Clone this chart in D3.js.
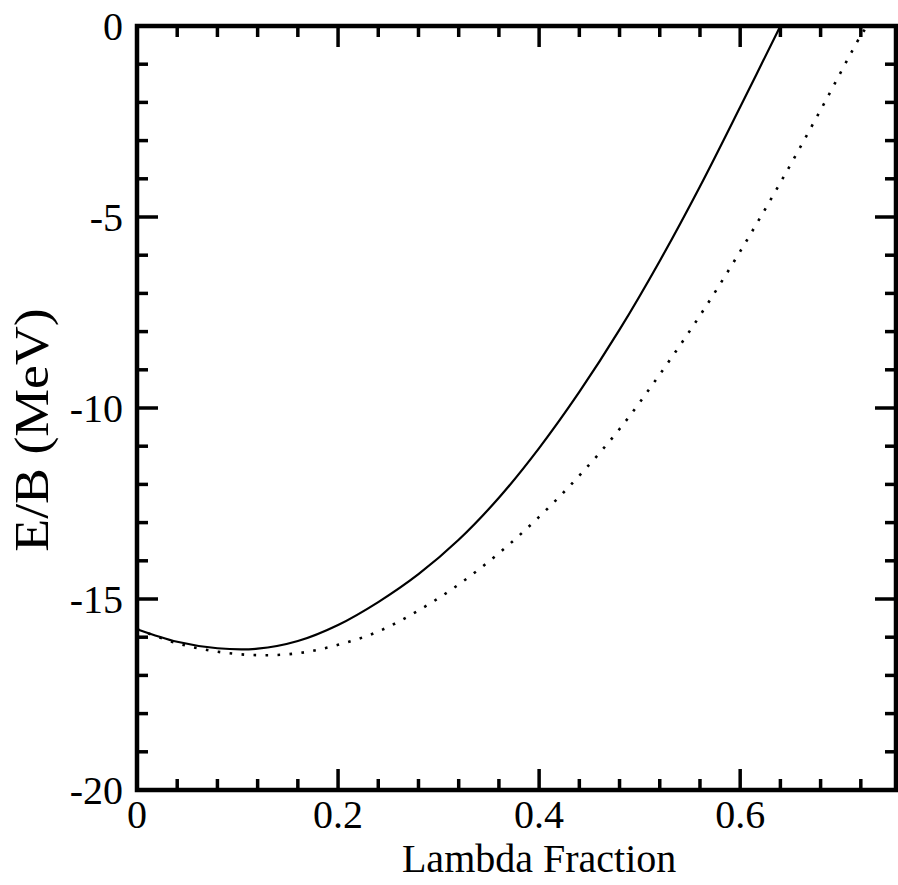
<!DOCTYPE html>
<html>
<head>
<meta charset="utf-8">
<script src="https://cdn.jsdelivr.net/npm/d3@7"></script>
<style>
  body { margin: 0; background: #fff; }
  svg { display: block; }
</style>
</head>
<body>
<figure id="chart" style="margin:0"></figure>
<script>
// lambda fraction sampled every 0.04
var lambdaSolid = [0, 0.04, 0.08, 0.12, 0.16, 0.20, 0.24, 0.28, 0.32, 0.36, 0.40, 0.44, 0.48, 0.52, 0.56, 0.60, 0.64];
var energySolid = [-15.79, -16.12, -16.29, -16.30, -16.10, -15.68, -15.08, -14.35, -13.45, -12.35, -11.05, -9.58, -7.95, -6.15, -4.20, -2.12, 0.0];

var lambdaDotted = [0, 0.04, 0.08, 0.12, 0.16, 0.20, 0.24, 0.28, 0.32, 0.36, 0.40, 0.44, 0.48, 0.52, 0.56, 0.60, 0.64, 0.68, 0.72, 0.7265];
var energyDotted = [-15.79, -16.16, -16.38, -16.47, -16.42, -16.20, -15.85, -15.30, -14.62, -13.80, -12.85, -11.77, -10.55, -9.12, -7.58, -5.90, -4.10, -2.20, -0.25, 0.0];

var xTickLabels = [0, 0.2, 0.4, 0.6];
var yTickLabels = [0, -5, -10, -15, -20];

var fontFamily = "'Times New Roman', 'Liberation Serif', Times, serif";

var dimensions = {
    width: 898,
    height: 885,
    margin: {
        top: 26,
        right: 2,
        bottom: 95,
        left: 137,
    },
};

dimensions.boundedWidth = dimensions.width - dimensions.margin.left - dimensions.margin.right;
dimensions.boundedHeight = dimensions.height - dimensions.margin.top - dimensions.margin.bottom;

var svg = d3.select("figure#chart")
    .append("svg")
    .attr("width", dimensions.width)
    .attr("height", dimensions.height)
    .attr("font-family", fontFamily);

var g = svg.append("g")
    .attr("transform", `translate(${dimensions.margin.left},${dimensions.margin.top})`);

var xScale = d3.scaleLinear()
    .domain([0, 0.755])
    .range([0, dimensions.boundedWidth]);

var yScale = d3.scaleLinear()
    .domain([-20, 0])
    .range([dimensions.boundedHeight, 0]);

// ticks: minor every 0.04 / 1, major every 0.2 / 5
var xMinor = d3.range(0, 0.7551, 0.04);
var yMinor = d3.range(-20, 0.001, 1);

function isMajorX(v) { return Math.abs(v / 0.2 - Math.round(v / 0.2)) < 1e-6; }
function isMajorY(v) { return Math.abs(v / 5 - Math.round(v / 5)) < 1e-6; }

var tickW = 3.5;
var W = dimensions.boundedWidth, H = dimensions.boundedHeight;

// bottom + top ticks (inward)
xMinor.forEach(function(v) {
    var len = isMajorX(v) ? 21 : 11;
    g.append("line").attr("x1", xScale(v)).attr("x2", xScale(v))
        .attr("y1", H).attr("y2", H - len)
        .attr("stroke", "#000").attr("stroke-width", tickW);
    g.append("line").attr("x1", xScale(v)).attr("x2", xScale(v))
        .attr("y1", 0).attr("y2", len)
        .attr("stroke", "#000").attr("stroke-width", tickW);
});

// left + right ticks (inward)
yMinor.forEach(function(v) {
    var len = isMajorY(v) ? 21 : 11;
    g.append("line").attr("x1", 0).attr("x2", len)
        .attr("y1", yScale(v)).attr("y2", yScale(v))
        .attr("stroke", "#000").attr("stroke-width", tickW);
    g.append("line").attr("x1", W).attr("x2", W - len)
        .attr("y1", yScale(v)).attr("y2", yScale(v))
        .attr("stroke", "#000").attr("stroke-width", tickW);
});

// frame
g.append("rect")
    .attr("x", 0).attr("y", 0)
    .attr("width", W).attr("height", H)
    .attr("fill", "none")
    .attr("stroke", "#000")
    .attr("stroke-width", 4.5);

// tick labels
g.selectAll(".xlab")
    .data(xTickLabels)
    .enter()
    .append("text")
    .attr("class", "xlab")
    .attr("x", d => xScale(d))
    .attr("y", H + 38)
    .attr("text-anchor", "middle")
    .style("font-size", "40px")
    .text(d => d3.format("")(d));

g.selectAll(".ylab")
    .data(yTickLabels)
    .enter()
    .append("text")
    .attr("class", "ylab")
    .attr("x", -14)
    .attr("y", d => yScale(d) + 14)
    .attr("text-anchor", "end")
    .style("font-size", "40px")
    .text(d => d);

// axis titles
svg.append("text")
    .attr("x", dimensions.margin.left + xScale(0.4))
    .attr("y", 872)
    .attr("text-anchor", "middle")
    .style("font-size", "40px")
    .text("Lambda Fraction");

// the y title in the original is a bit larger and wider
svg.append("text")
    .attr("transform", `translate(48,430) rotate(-90) scale(1.12,1)`)
    .attr("text-anchor", "middle")
    .style("font-size", "48px")
    .text("E/B (MeV)");

var line = d3.line()
    .x(d => xScale(d[0]))
    .y(d => yScale(d[1]))
    .curve(d3.curveCatmullRom);

g.append("path")
    .datum(d3.zip(lambdaDotted, energyDotted))
    .attr("d", line)
    .attr("fill", "none")
    .attr("stroke", "#000")
    .attr("stroke-width", 2.6)
    .attr("stroke-dasharray", "2.6,9.4");

g.append("path")
    .datum(d3.zip(lambdaSolid, energySolid))
    .attr("d", line)
    .attr("fill", "none")
    .attr("stroke", "#000")
    .attr("stroke-width", 2.2);
</script>
</body>
</html>
